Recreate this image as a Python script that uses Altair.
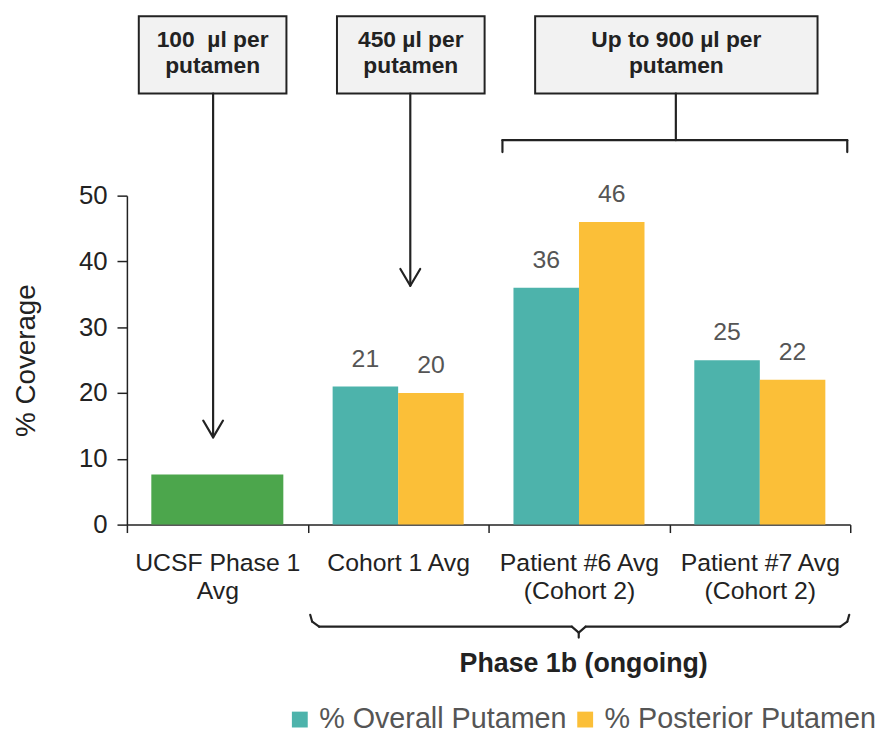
import altair as alt
import pandas as pd

# ---------------- data ----------------
CATEGORIES = ["UCSF Phase 1|Avg", "Cohort 1 Avg", "Patient #6 Avg|(Cohort 2)", "Patient #7 Avg|(Cohort 2)"]
SERIES = ["% Overall Putamen", "% Posterior Putamen"]
PHASE1_VALUE = [7.6]
OVERALL = [21, 36, 25]
POSTERIOR = [20, 46, 22]
Y_TICKS = [0, 10, 20, 30, 40, 50]

BOX_TEXTS = [["100\u00a0 µl per", "putamen"], ["450 µl per", "putamen"], ["Up to 900 µl per", "putamen"]]
BRACE_LABEL = "Phase 1b (ongoing)"
Y_TITLE = "% Coverage"

TEAL = "#4DB3AB"
YELLOW = "#FBBF38"
GREEN = "#4CA64C"
INK = "#222222"
FONT = "Liberation Sans"

green_df = pd.DataFrame({"category": CATEGORIES[:1], "value": PHASE1_VALUE})
rows = []
for c, o, p in zip(CATEGORIES[1:], OVERALL, POSTERIOR):
    rows.append({"category": c, "series": SERIES[0], "value": o})
    rows.append({"category": c, "series": SERIES[1], "value": p})
group_df = pd.DataFrame(rows)
ONE = pd.DataFrame({"k": [0]})

# ---------------- encodings ----------------
x_enc = alt.X(
    "category:N",
    sort=CATEGORIES,
    scale=alt.Scale(domain=CATEGORIES, paddingInner=0, paddingOuter=0),
    axis=alt.Axis(
        title=None, labelAngle=0, labelExpr="split(datum.label, '|')",
        tickBand="extent", labelFontSize=25, labelLineHeight=29,
        labelPadding=18, labelColor=INK, tickSize=8, labelLimit=400,
        labelFont=FONT,
    ),
)
y_enc = alt.Y(
    "value:Q",
    scale=alt.Scale(domain=[0, 50], nice=False),
    axis=alt.Axis(
        values=Y_TICKS, grid=False, title=Y_TITLE, titleAngle=-90,
        titleX=-101, titleY=166, titleAlign="center", titleBaseline="middle",
        titleFontSize=28, titleFontWeight="normal", titleColor=INK, titleFont=FONT,
        labelFontSize=26, labelColor=INK, labelPadding=10, tickSize=10, labelFont=FONT,
    ),
)
xoff = alt.XOffset("series:N", sort=SERIES,
                   scale=alt.Scale(domain=SERIES, paddingInner=0, paddingOuter=0.38))

green = alt.Chart(green_df).mark_bar(color=GREEN, width=alt.RelativeBandSize(0.73)).encode(
    x=x_enc, y=y_enc)

bars = alt.Chart(group_df).mark_bar().encode(
    x=x_enc, xOffset=xoff, y=y_enc,
    color=alt.Color(
        "series:N", sort=SERIES,
        scale=alt.Scale(domain=SERIES, range=[TEAL, YELLOW]),
        legend=alt.Legend(
            title=None, orient="none", legendX=160, legendY=514,
            direction="horizontal", symbolType="square", symbolSize=256,
            symbolStrokeWidth=0, labelFontSize=29, labelColor="#555555",
            labelFont=FONT, columnPadding=4, labelOffset=5, labelLimit=500,
        ),
    ),
)

labels = alt.Chart(group_df).mark_text(
    dy=-20, baseline="alphabetic", fontSize=25, color="#555555", font=FONT
).encode(x=x_enc, xOffset=xoff, y=y_enc, text=alt.Text("value:Q", format="d"))

# ---------------- annotations (pixel positions relative to plot origin) ----------------
def seg(x1, y1, x2, y2):
    return alt.Chart(ONE).mark_rule(color=INK, strokeWidth=2.2, strokeCap="round").encode(
        x=alt.value(x1), y=alt.value(y1), x2=alt.value(x2), y2=alt.value(y2))

BOX_X = [(12, 161), (212, 361), (412, 697)]
BOX_Y = (-181, -103)

annos = []
for (bx1, bx2), lines in zip(BOX_X, BOX_TEXTS):
    annos.append(alt.Chart(ONE).mark_rect(fill="#F2F2F2", stroke=INK, strokeWidth=2).encode(
        x=alt.value(bx1), x2=alt.value(bx2), y=alt.value(BOX_Y[0]), y2=alt.value(BOX_Y[1])))
    annos.append(alt.Chart(ONE).mark_text(
        text=lines, font=FONT, fontSize=23, fontWeight="bold", lineHeight=26,
        align="center", baseline="middle", color=INK).encode(
        x=alt.value((bx1 + bx2) / 2), y=alt.value(-157)))

SEGMENTS = [
    # arrow 1
    (87, -103, 87, 243), (77, 227, 87, 244), (97, 227, 87, 244),
    # arrow 2
    (286, -103, 286, 90), (276, 74, 286, 91), (296, 74, 286, 91),
    # top bracket
    (554, -103, 554, -56), (379, -56, 727, -56), (379, -56, 379, -44), (727, -56, 727, -44),
    # bottom curly brace
    (185, 423, 187, 430), (187, 430, 194, 435), (194, 435, 449, 435),
    (449, 435, 456, 441), (463, 435, 456, 441), (456, 441, 456, 446),
    (463, 435, 720, 435), (720, 435, 727, 430), (727, 430, 729, 423),
]
for s in SEGMENTS:
    annos.append(seg(*s))

annos.append(alt.Chart(ONE).mark_text(
    text=BRACE_LABEL, font=FONT, fontSize=27, fontWeight="bold",
    align="center", baseline="middle", color=INK).encode(
    x=alt.value(461), y=alt.value(473)))

chart = alt.layer(green, bars, labels, *annos).properties(
    width=730, height=332,
    autosize=alt.AutoSizeParams(type="none"),
    padding={"left": 120, "top": 186, "right": 26, "bottom": 214},
).configure_view(strokeWidth=0).configure_axis(
    domainColor=INK, tickColor=INK, domainWidth=1.5, tickWidth=1.5,
)

chart.save("out.html", embed_options={"renderer": "svg", "actions": False})
